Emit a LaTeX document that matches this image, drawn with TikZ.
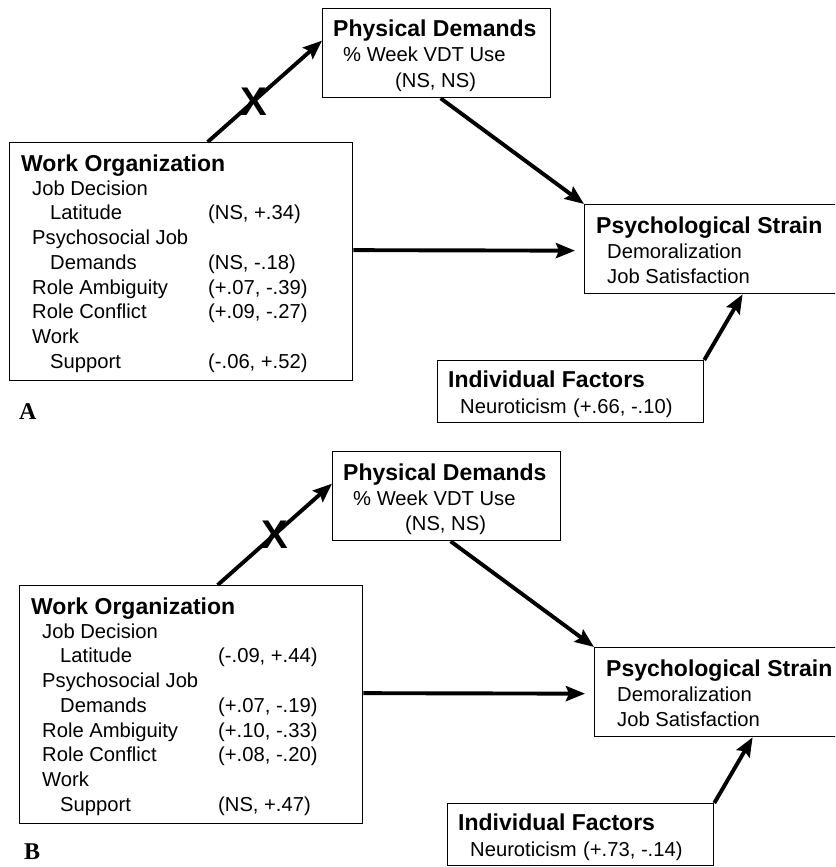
\documentclass[tikz,border=0pt]{standalone}
\usepackage{fontspec}
\setmainfont{Liberation Sans}
\newfontfamily\panelserif{Liberation Serif}
\usetikzlibrary{arrows.meta}

\tikzset{
  boxframe/.style={draw, line width=1.3pt, anchor=north west, inner sep=0pt},
  headtext/.style={font=\fontsize{23}{25}\selectfont\bfseries, anchor=base west, inner sep=0pt},
  itemtext/.style={font=\fontsize{20.2}{25}\selectfont, anchor=base west, inner sep=0pt},
  linkarrow/.style={line width=3.9pt, -{Stealth[length=19pt,width=15pt,inset=3pt]}},
  crossmark/.style={font=\fontsize{40}{40}\selectfont\bfseries, inner sep=0pt},
  paneltag/.style={font=\panelserif\bfseries\fontsize{24}{24}\selectfont, anchor=base west, inner sep=0pt},
}

% One path model: #1-#5 work organization coefficients, #6 neuroticism,
% #7 position of the cross on the blocked path
\newcommand\strainpanel[7]{%
  % Work organization
  \node[boxframe, minimum width=343pt, minimum height=238pt] (wo) at (9,142) {};
  \node[headtext] (wo-t) at (21,171) {Work Organization};
  \node[itemtext] (wo-1) at (32,195) {Job Decision};
  \node[itemtext] (wo-2) at (50,219.75) {Latitude};
  \node[itemtext] (wo-2v) at (208,219.75) {#1};
  \node[itemtext] (wo-3) at (32,244.5) {Psychosocial Job};
  \node[itemtext] (wo-4) at (50,269.25) {Demands};
  \node[itemtext] (wo-4v) at (208,269.25) {#2};
  \node[itemtext] (wo-5) at (32,294) {Role Ambiguity};
  \node[itemtext] (wo-5v) at (208,294) {#3};
  \node[itemtext] (wo-6) at (32,318.75) {Role Conflict};
  \node[itemtext] (wo-6v) at (208,318.75) {#4};
  \node[itemtext] (wo-7) at (32,343.5) {Work};
  \node[itemtext] (wo-8) at (50,368.25) {Support};
  \node[itemtext] (wo-8v) at (208,368.25) {#5};
  % Physical demands
  \node[boxframe, minimum width=228pt, minimum height=89pt] (pd) at (322,8) {};
  \node[headtext] (pd-t) at (333,37) {Physical Demands};
  \node[itemtext] (pd-1) at (343,62) {\% Week VDT Use};
  \node[itemtext] (pd-2) at (395,87) {(NS, NS)};
  % Psychological strain
  \node[boxframe, minimum width=256pt, minimum height=89pt] (ps) at (584,204) {};
  \node[headtext] (ps-t) at (596,233) {Psychological Strain};
  \node[itemtext] (ps-1) at (607,258) {Demoralization};
  \node[itemtext] (ps-2) at (607,283) {Job Satisfaction};
  % Individual factors
  \node[boxframe, minimum width=266pt, minimum height=62pt] (if) at (437,360) {};
  \node[headtext] (if-t) at (448,387) {Individual Factors};
  \node[itemtext] (if-1) at (460,413) {Neuroticism};
  \node[itemtext] (if-1v) at (573,413) {#6};
  % Paths
  \draw[linkarrow] ([xshift=26.5pt]wo.north) -- node[crossmark, pos=#7] (cx) {X} ([yshift=12.5pt]pd.west);
  \draw[linkarrow] ([xshift=4pt]pd.south) -- (ps.north west);
  \draw[linkarrow] ([yshift=11.5pt]wo.east) -- ([xshift=-9pt,yshift=-1.5pt]ps.west);
  \draw[linkarrow] (if.north east) -- ([xshift=30pt]ps.south);
}

\begin{document}
\begin{tikzpicture}[x=1pt, y=-1pt]
  \useasboundingbox (0,0) rectangle (835,867);
  \clip (0,0) rectangle (835,867);

  \begin{scope}[name prefix=a-]
    \strainpanel{(NS, +.34)}{(NS, -.18)}{(+.07, -.39)}{(+.09, -.27)}{(-.06, +.52)}{(+.66, -.10)}{0.4}
  \end{scope}
  \node[paneltag] (tagA) at (19,419) {A};

  \begin{scope}[shift={(10,443)}, name prefix=b-]
    \strainpanel{(-.09, +.44)}{(+.07, -.19)}{(+.10, -.33)}{(+.08, -.20)}{(NS, +.47)}{(+.73, -.14)}{0.5}
  \end{scope}
  \node[paneltag] (tagB) at (24,859) {B};
\end{tikzpicture}
\end{document}
